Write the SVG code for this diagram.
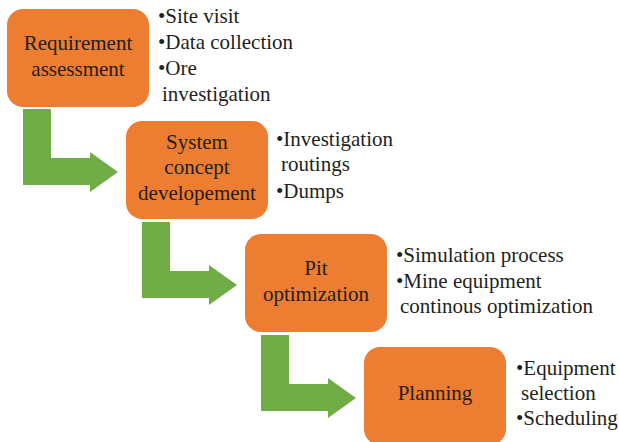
<svg xmlns="http://www.w3.org/2000/svg" width="619" height="442" viewBox="0 0 619 442">
<style>
.box{fill:#ED7D31;}
.arr{fill:#70AD47;}
text{font-family:"Liberation Serif","Times New Roman",serif;font-size:21px;fill:#231F20;}
.c{text-anchor:middle;}
</style>
<rect width="619" height="442" fill="#FFFFFF"/>
<g id="connectors">
<polygon class="arr" points="23,109 51,109 51,158 90,158 90,152 118,172 90,192 90,185 23,185"/>
<polygon class="arr" points="142,222 170,222 170,271 209,271 209,265 237,285 209,305 209,298 142,298"/>
<polygon class="arr" points="261,335 289,335 289,384 328,384 328,378 356,398 328,418 328,411 261,411"/>
</g>
<g id="node1">
<rect class="box" x="7" y="9" width="142" height="98" rx="16"/>
<text class="c" x="78" y="50">Requirement</text>
<text class="c" x="78" y="76">assessment</text>
</g>
<g id="notes1">
<text x="158" y="23">•Site visit</text>
<text x="158" y="49">•Data collection</text>
<text x="158" y="75">•Ore</text>
<text x="162" y="101">investigation</text>
</g>
<g id="node2">
<rect class="box" x="126" y="121" width="142" height="98" rx="16"/>
<text class="c" x="197" y="149">System</text>
<text class="c" x="197" y="174">concept</text>
<text class="c" x="197" y="200">developement</text>
</g>
<g id="notes2">
<text x="276" y="146">•Investigation</text>
<text x="281" y="171">routings</text>
<text x="276" y="198">•Dumps</text>
</g>
<g id="node3">
<rect class="box" x="245" y="234" width="142" height="98" rx="16"/>
<text class="c" x="316" y="275">Pit</text>
<text class="c" x="316" y="301">optimization</text>
</g>
<g id="notes3">
<text x="396" y="262">•Simulation process</text>
<text x="396" y="288">•Mine equipment</text>
<text x="400" y="313">continous optimization</text>
</g>
<g id="node4">
<rect class="box" x="364" y="347" width="142" height="98" rx="16"/>
<text class="c" x="435" y="400">Planning</text>
</g>
<g id="notes4">
<text x="516" y="375">•Equipment</text>
<text x="521" y="400">selection</text>
<text x="516" y="425">•Scheduling</text>
</g>
</svg>
